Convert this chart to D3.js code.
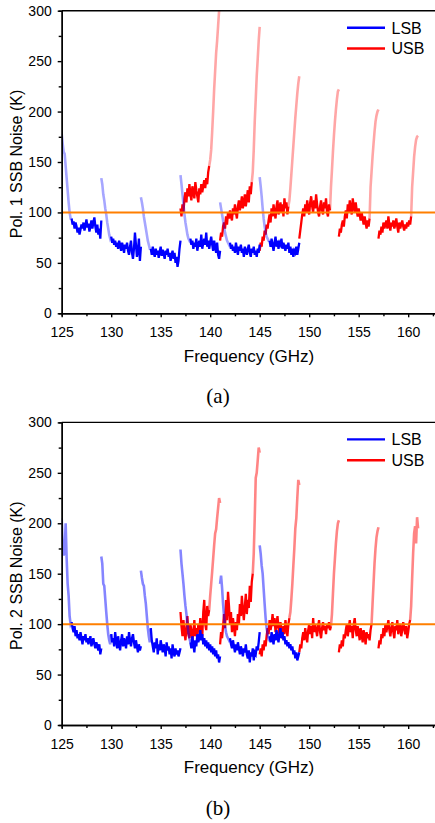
<!DOCTYPE html>
<head>
  <meta charset="utf-8">
  <title>SSB Noise</title>
  <style>
    body { margin: 0; background: #fff; }
    text { font-family: "Liberation Sans", Arial, sans-serif; }
    .tick text { font-size: 14px; fill: #000; }
    .axis path, .axis line { stroke: #000; stroke-width: 1.4px; }
    .caption { font-family: "Liberation Serif", "Times New Roman", serif; font-size: 21px; }
  </style>
</head>
<body>
  <div id="chart"></div>
  <script src="https://d3js.org/d3.v7.min.js"></script>
  <script>
    // sampling grid of the traces (GHz)
    const freqStep = 0.1;
    const xMajor = [125, 130, 135, 140, 145, 150, 155, 160];
    const yMajor = [0, 50, 100, 150, 200, 250, 300];
    const limit = 100;

    // ---- Pol. 1 ----
    const pol1LsbStart = [125, 129, 133, 137, 141, 145];
    const pol1LsbEdge = [
      [178,168,160,158,146,134,122,110,100,94],
      [134,128,118,112,104,98,90,84,78,74],
      [115,110,104,96,90,84,78,72,68,64],
      [137,128,118,108,98,90,84,78,74,72],
      [110,104,98,92,86,80,76,72,70,68],
      [135,126,116,104,94,86,80,76,74,72]
    ];
    const pol1LsbCore = [
      [94,88,91,84,90,86,80,85,78,83,88,84,90,82,87,93,85,89,81,86,92,84,90,95,86,80,88,78,84,74,92],
      [76,70,74,68,72,66,70,64,72,68,62,70,66,60,68,64,70,62,58,66,72,60,54,64,80,68,56,62,74,52,66],
      [64,58,66,60,56,64,58,62,55,61,66,57,63,59,54,62,58,64,56,60,52,58,62,54,60,50,56,46,52,64,72],
      [74,68,72,64,70,66,74,62,68,72,66,78,64,70,74,68,80,66,72,64,70,76,68,62,72,66,60,70,58,54,62],
      [70,64,68,62,66,60,70,64,58,66,62,68,60,64,56,66,62,58,64,68,60,56,64,60,66,58,62,56,64,60,68],
      [72,66,74,68,62,70,76,66,72,64,70,68,74,64,70,66,62,68,64,70,60,66,58,64,56,62,60,66,58,64,70]
    ];
    const pol1UsbStart = [137, 141, 145, 149, 153, 157];
    const pol1UsbCore = [
      [104,96,108,100,114,120,110,124,116,128,118,112,126,120,114,130,122,116,110,124,118,128,120,126,132,124,134,128,140,146],
      [72,80,76,86,90,84,96,88,100,94,102,96,92,104,98,108,100,94,106,112,102,108,116,104,110,118,106,114,122,110,126,118,130],
      [62,70,66,76,72,82,78,88,84,92,98,90,104,96,108,100,94,106,112,98,104,110,100,108,96,114,104,110,98,106],
      [74,82,90,98,104,96,108,100,112,104,98,110,116,106,100,112,104,118,108,100,96,106,112,102,98,110,104,114,100,96,108,102],
      [76,84,80,88,92,86,96,102,94,108,100,112,104,98,114,106,100,110,102,96,104,98,92,100,94,88,96,90,84,92,86,94],
      [74,82,78,86,80,90,84,88,92,84,96,88,82,90,86,92,84,88,94,86,80,90,84,88,92,86,82,88,84,90,86,92,88,96]
    ];
    const pol1UsbEdge = [
      [152,162,180,200,222,240,258,270,285,300,315],
      [140,162,190,212,235,252,270,284],
      [112,124,138,152,166,180,194,206,218,228,235],
      [125,142,160,176,190,202,212,220,222],
      [125,140,155,168,180,190,196,200,202],
      [125,140,155,165,172,175,176]
    ];

    // ---- Pol. 2 ----
    const pol2LsbStart = [125, 129, 133, 137, 141, 145];
    const pol2LsbEdge = [
      [205,176,168,172,200,165,140,128,108,100],
      [167,160,140,138,125,112,100,90,84,80],
      [153,146,140,138,128,120,108,96,88,82],
      [174,160,150,140,128,118,110,100,92,86],
      [140,148,136,120,108,98,92,88,86,84],
      [178,170,158,150,135,120,106,96,90,86]
    ];
    const pol2LsbCore = [
      [102,96,92,98,88,94,86,90,84,92,86,80,88,84,90,82,86,80,84,88,78,82,86,80,76,82,78,74,80,70,76],
      [90,82,86,78,92,84,76,88,80,74,84,90,78,86,82,76,88,80,92,84,78,86,90,82,76,84,78,72,80,74,78],
      [96,84,78,72,82,76,86,70,80,74,84,78,72,80,76,68,82,74,78,70,76,66,80,72,68,76,70,74,68,72,76],
      [82,76,88,80,72,84,78,90,82,86,94,84,90,80,86,78,84,76,82,74,80,72,78,70,76,68,74,66,70,62,68],
      [86,80,76,84,78,72,80,74,82,76,70,78,74,68,76,72,80,70,66,74,62,72,68,76,64,72,70,78,74,82,92],
      [88,82,92,86,80,90,84,94,88,82,90,96,86,92,84,88,80,84,78,82,76,80,74,78,70,74,66,72,64,68,72]
    ];
    const pol2UsbStart = [137, 141, 145, 149, 153, 157];
    const pol2UsbCore = [
      [112,98,88,104,92,84,96,108,90,86,100,94,84,92,104,88,96,86,100,92,106,96,88,112,124,100,94,118,108,114],
      [80,92,86,98,110,96,124,104,132,118,100,112,92,106,98,88,102,94,110,100,120,108,128,114,104,118,130,110,124,116,138,122,142,150],
      [70,76,68,80,74,84,78,88,96,90,104,94,100,110,98,106,92,100,108,96,90,102,94,86,98,90,104,96,88,100,106],
      [72,80,76,86,92,84,96,88,82,94,100,90,98,86,106,92,100,94,88,98,104,92,86,96,102,94,98,90,100,96,102,94,98],
      [72,80,76,84,78,90,86,94,100,88,96,104,92,98,86,100,106,94,88,98,92,84,96,90,82,94,88,80,92,86,90,84,94,100],
      [76,84,80,90,86,96,88,100,92,98,104,94,88,96,102,92,86,98,94,104,90,96,100,88,94,102,96,90,98,86,92,100,104]
    ];
    const pol2UsbEdge = [
      [128,140,152,165,178,190,194,205,215,225,220],
      [170,205,245,250,262,275,270],
      [112,125,140,158,175,195,205,225,243,238],
      [110,130,150,165,180,192,200,203],
      [120,140,160,175,186,192,196],
      [118,145,170,190,197,180,206,195]
    ];

    const W = 435, H = 823;
    const left = 61.7, right = 435.6, plotH = 302.6;

    const svg = d3.select('#chart').append('svg')
      .attr('width', W).attr('height', H);

    const x = d3.scaleLinear().domain([125, 162.77]).range([left, right]);

    // turn an array of values into points on the grid
    function pts(start, offset, vals) {
      return vals.map((v, i) => [start + (offset + i) * freqStep, v]);
    }

    function panel(top, id, label, caption, lsbStart, lsbEdge, lsbCore, usbStart, usbCore, usbEdge, fade) {
      const g = svg.append('g');
      const y = d3.scaleLinear().domain([0, 300]).range([top + plotH, top]);
      const line = d3.line().x(d => x(d[0])).y(d => y(d[1]));

      g.append('clipPath').attr('id', id)
        .append('rect').attr('x', left).attr('y', top).attr('width', right - left).attr('height', plotH);

      const data = g.append('g').attr('clip-path', `url(#${id})`);

      // solid parts
      usbStart.forEach((s, k) => {
        data.append('path').datum(pts(s, 0, usbCore[k]))
          .attr('d', line).attr('fill', 'none').attr('stroke', '#ff0000').attr('stroke-width', 2.3);
      });
      lsbStart.forEach((s, k) => {
        data.append('path').datum(pts(s, lsbEdge[k].length, lsbCore[k]))
          .attr('d', line).attr('fill', 'none').attr('stroke', '#0000ff').attr('stroke-width', 2.3);
      });
      // band edges, faded
      usbStart.forEach((s, k) => {
        const n = usbCore[k].length;
        const p = pts(s, n - 1, [usbCore[k][n - 1]].concat(usbEdge[k]));
        data.append('path').datum(p)
          .attr('d', line).attr('fill', 'none').attr('stroke', '#ff0000')
          .attr('stroke-opacity', fade).attr('stroke-width', 2.6);
      });
      lsbStart.forEach((s, k) => {
        const p = pts(s, 0, lsbEdge[k].concat([lsbCore[k][0]]));
        data.append('path').datum(p)
          .attr('d', line).attr('fill', 'none').attr('stroke', '#0000ff')
          .attr('stroke-opacity', fade).attr('stroke-width', 2.6);
      });

      // 100 K line
      g.append('line')
        .attr('x1', left).attr('x2', right)
        .attr('y1', y(limit)).attr('y2', y(limit))
        .attr('stroke', '#ff7f00').attr('stroke-width', 2);

      // axes
      g.append('g').attr('class', 'axis')
        .attr('transform', `translate(0, ${top + plotH})`)
        .call(d3.axisBottom(x).tickValues(d3.range(127.5, 163, 5)).tickSize(3).tickFormat(''));
      g.append('g').attr('class', 'axis')
        .attr('transform', `translate(0, ${top + plotH})`)
        .call(d3.axisBottom(x).tickValues(xMajor).tickSize(4).tickPadding(10).tickSizeOuter(0));
      g.append('g').attr('class', 'axis')
        .attr('transform', `translate(${left}, 0)`)
        .call(d3.axisLeft(y).tickValues(d3.range(25, 300, 50)).tickSize(3).tickFormat(''));
      g.append('g').attr('class', 'axis')
        .attr('transform', `translate(${left}, 0)`)
        .call(d3.axisLeft(y).tickValues(yMajor).tickSize(4).tickPadding(6).tickSizeOuter(0));
      g.selectAll('.tick text').attr('font-family', '"Liberation Sans", Arial, sans-serif');

      // top frame
      g.append('line')
        .attr('x1', left).attr('x2', right).attr('y1', top).attr('y2', top)
        .attr('stroke', '#000').attr('stroke-width', 1.4);

      // titles
      g.append('text')
        .attr('transform', `translate(22, ${top + plotH / 2 + 2}) rotate(-90)`)
        .attr('text-anchor', 'middle').attr('font-size', 16)
        .text(label);
      g.append('text')
        .attr('x', 249).attr('y', top + plotH + 48.4)
        .attr('text-anchor', 'middle').attr('font-size', 17)
        .text('Frequency (GHz)');
      g.append('text').attr('class', 'caption')
        .attr('x', 218).attr('y', top + plotH + 89.5)
        .attr('text-anchor', 'middle')
        .text(caption);

      // legend
      const leg = [['LSB', '#0000ff'], ['USB', '#ff0000']];
      leg.forEach((d, i) => {
        const ly = top + 17 + i * 20.8;
        g.append('line')
          .attr('x1', 347).attr('x2', 385).attr('y1', ly).attr('y2', ly)
          .attr('stroke', d[1]).attr('stroke-width', 2.4);
        g.append('text')
          .attr('x', 391.5).attr('y', ly + 5.8).attr('font-size', 16)
          .text(d[0]);
      });
    }

    panel(10.7, 'clipA', 'Pol. 1 SSB Noise (K)', '(a)',
      pol1LsbStart, pol1LsbEdge, pol1LsbCore, pol1UsbStart, pol1UsbCore, pol1UsbEdge, 0.35);
    panel(422.4, 'clipB', 'Pol. 2 SSB Noise (K)', '(b)',
      pol2LsbStart, pol2LsbEdge, pol2LsbCore, pol2UsbStart, pol2UsbCore, pol2UsbEdge, 0.48);
  </script>
</body>
</html>
